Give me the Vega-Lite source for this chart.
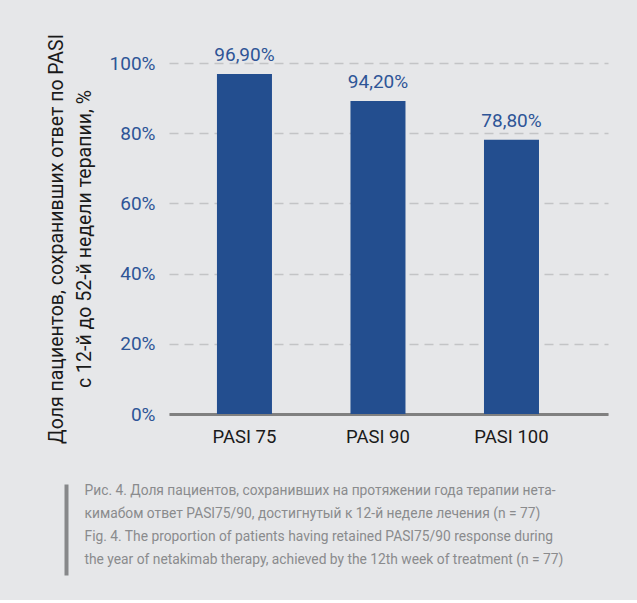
{
  "$schema": "https://vega.github.io/schema/vega-lite/v6.json",
  "background": "#e6e7e9",
  "padding": {"left": 46, "top": 33, "right": 30, "bottom": 25},
  "config": {
    "view": {"stroke": null},
    "font": "Roboto",
    "axis": {"labelFont": "Roboto", "titleFont": "Roboto"}
  },
  "data": {
    "values": [
      {"measure": "PASI 75", "value": 96.9, "label": "96,90%"},
      {"measure": "PASI 90", "value": 89.2, "label": "94,20%"},
      {"measure": "PASI 100", "value": 78.1, "label": "78,80%"}
    ]
  },
  "spacing": 37,
  "vconcat": [
    {
      "width": 439,
      "height": 351,
      "encoding": {
        "x": {
          "field": "measure",
          "type": "nominal",
          "sort": null,
          "scale": {"paddingInner": 0.588, "paddingOuter": 0.438, "align": 0.41},
          "axis": {
            "title": null,
            "labelAngle": 0,
            "labelFontSize": 18.5,
            "labelColor": "#1a1a1a",
            "labelPadding": 13,
            "domainColor": "#808080",
            "domainWidth": 3,
            "ticks": false
          }
        },
        "y": {
          "field": "value",
          "type": "quantitative",
          "scale": {"domain": [0, 100]},
          "axis": {
            "values": [0, 20, 40, 60, 80, 100],
            "labelExpr": "datum.value + '%'",
            "labelFontSize": 19,
            "labelColor": "#2e5597",
            "labelPadding": 14,
            "domain": false,
            "ticks": false,
            "gridDash": [9, 6],
            "gridColor": "#c3c4c6",
            "gridWidth": 1.5,
            "title": ["Доля пациентов, сохранивших ответ по PASI", "с 12-й до 52-й недели терапии, %"],
            "titleFontSize": 19.5,
            "titleFontWeight": "normal",
            "titleColor": "#1a1a1a",
            "titlePadding": 15,
            "titleLineHeight": 28
          }
        }
      },
      "layer": [
        {"mark": {"type": "bar", "color": "#234e8f"}},
        {
          "mark": {"type": "text", "baseline": "bottom", "dy": -9, "fontSize": 19, "color": "#2e5597"},
          "encoding": {"text": {"field": "label"}}
        }
      ]
    },
    {
      "width": 439,
      "height": 91,
      "mark": {"type": "tick", "opacity": 0},
      "encoding": {
        "y": {
          "field": "value",
          "type": "quantitative",
          "scale": {"domain": [0, 100]},
          "axis": {
            "orient": "left",
            "offset": 103,
            "domain": true,
            "domainColor": "#87888a",
            "domainWidth": 4,
            "ticks": false,
            "labels": false,
            "grid": false,
            "title": [
              "Рис. 4. Доля пациентов, сохранивших на протяжении года терапии нета-",
              "кимабом ответ PASI75/90, достигнутый к 12-й неделе лечения (n = 77)",
              "Fig. 4. The proportion of patients having retained PASI75/90 response during",
              "the year of netakimab therapy, achieved by the 12th week of treatment (n = 77)"
            ],
            "titleFontSize": 13.8,
            "titleFontWeight": "normal",
            "titleColor": "#8a8b8d",
            "titleAngle": 0,
            "titleAlign": "left",
            "titleBaseline": "top",
            "titleX": 18,
            "titleY": -1,
            "titleLineHeight": 23
          }
        }
      }
    }
  ]
}
